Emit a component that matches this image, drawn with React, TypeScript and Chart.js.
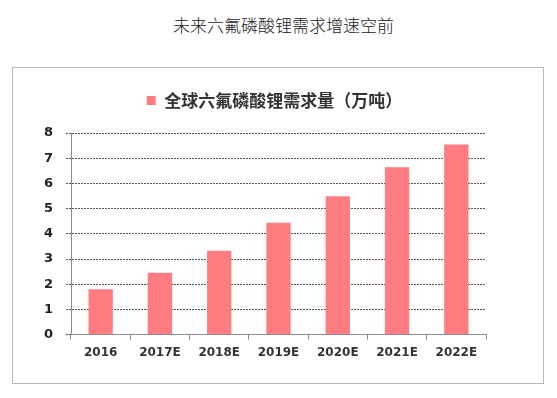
import React, { useEffect, useRef } from "react";
import { Chart, registerables } from "chart.js";

Chart.register(...registerables);

const pageTitle = "未来六氟磷酸锂需求增速空前";
const seriesName = "全球六氟磷酸锂需求量（万吨）";
const categories = ["2016", "2017E", "2018E", "2019E", "2020E", "2021E", "2022E"];
const demand = [1.8, 2.45, 3.33, 4.44, 5.49, 6.64, 7.54];
const yMin = 0;
const yMax = 8;
const yStep = 1;

const legendSpacer = {
  id: "legendSpacer",
  beforeInit(chart: any) {
    const legend = chart.legend;
    if (!legend) return;
    const origFit = legend.fit;
    legend.fit = function () {
      origFit.call(this);
      this.height += 14;
    };
  },
  beforeDraw(chart: any) {
    const legend = chart.legend;
    if (!legend || legend._shifted) return;
    legend.left += 12;
    legend.right += 12;
    legend._shifted = true;
  },
};

export default function App() {
  const ref = useRef<HTMLCanvasElement | null>(null);

  useEffect(() => {
    if (!ref.current) return;
    const chart = new Chart(ref.current, {
      type: "bar",
      data: {
        labels: categories,
        datasets: [
          {
            label: seriesName,
            data: demand,
            backgroundColor: "#FF7C80",
            borderWidth: 0,
            categoryPercentage: 1,
            barPercentage: 0.41,
          },
        ],
      },
      plugins: [legendSpacer],
      options: {
        animation: false,
        responsive: false,
        maintainAspectRatio: false,
        layout: { padding: { top: 14, left: 26, right: 57, bottom: 17 } },
        plugins: {
          title: { display: false },
          tooltip: { enabled: false },
          legend: {
            display: true,
            position: "top",
            labels: {
              boxWidth: 9,
              boxHeight: 9,
              color: "#333",
              font: { family: "'Noto Sans CJK SC'", size: 17, weight: "bold" },
              padding: 10,
            },
          },
        },
        scales: {
          x: {
            offset: true,
            grid: {
              display: true,
              drawOnChartArea: false,
              drawTicks: true,
              tickLength: 5,
              color: "#8c8c8c",
              offset: true,
            },
            border: { display: true, color: "#8c8c8c", width: 1 },
            ticks: {
              color: "#333",
              padding: 6,
              font: { family: "'DejaVu Sans'", size: 12, weight: "bold" },
            },
          },
          y: {
            min: yMin,
            max: yMax,
            afterFit(scale: any) {
              scale.width = 32;
            },
            ticks: {
              stepSize: yStep,
              color: "#222",
              padding: 13,
              font: { family: "'DejaVu Sans'", size: 13, weight: "bold" },
            },
            grid: {
              color: "#555",
              lineWidth: 1,
              tickLength: 5,
              drawTicks: true,
              tickBorderDash: [2, 1],
            },
            border: { display: true, color: "#8c8c8c", width: 1, dash: [2, 1] as any },
          },
        },
      },
    } as any);
    return () => chart.destroy();
  }, []);

  return (
    <div
      style={{
        position: "fixed",
        left: 0,
        top: 0,
        width: 557,
        height: 398,
        background: "#fff",
      }}
    >
      <div
        style={{
          position: "absolute",
          left: 0,
          width: 567,
          top: 13,
          textAlign: "center",
          fontFamily: "'Noto Sans CJK SC'",
          fontSize: 17,
          lineHeight: "24px",
          color: "#222",
          fontWeight: 300,
        }}
      >
        {pageTitle}
      </div>
      <div
        style={{
          position: "absolute",
          left: 12,
          top: 67,
          width: 530,
          height: 315,
          border: "1px solid #b8b8b8",
        }}
      >
        <canvas ref={ref} width={530} height={315} style={{ display: "block" }} />
      </div>
    </div>
  );
}
